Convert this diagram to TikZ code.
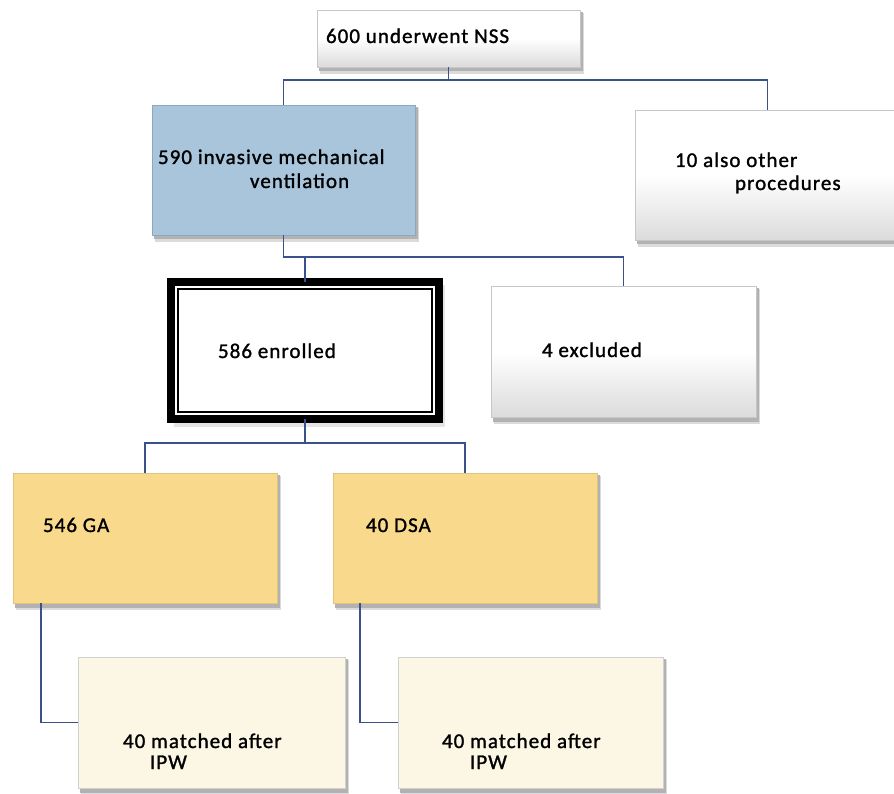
\documentclass[tikz,border=0pt]{standalone}
\usepackage{fontspec}
\setmainfont{Carlito}[LetterSpace=5,FakeBold=1.3]
\usetikzlibrary{backgrounds,calc}
\definecolor{conn}{RGB}{58,82,138}
\definecolor{bluebox}{RGB}{168,197,220}
\definecolor{goldbox}{RGB}{249,218,140}
\definecolor{creambox}{RGB}{251,247,228}
\tikzset{
  box/.style={rectangle, anchor=north west, inner sep=0pt, outer sep=0pt},
  whitebox/.style={box, draw=black!22, line width=0.6pt, top color=white, bottom color=black!14, middle color=white},
  bluefill/.style={box, fill=bluebox, draw=bluebox!85!black, line width=0.4pt},
  goldfill/.style={box, fill=goldbox, draw=goldbox!90!black, line width=0.4pt},
  creamfill/.style={box, fill=creambox, draw=black!18, line width=0.6pt},
  lbl/.style={anchor=base west, inner sep=0pt, outer sep=0pt, font=\fontsize{21}{24}\selectfont},
  link/.style={draw=conn, line width=1.8pt},
  shadowA/.style={fill=black!14},
  shadowB/.style={fill=black!30},
}
\begin{document}
\begin{tikzpicture}[x=1pt,y=-1pt]
\useasboundingbox (0,0) rectangle (894,794);
% boxes
\node[whitebox, minimum width=263pt, minimum height=57pt] (n1) at (317,10) {};
\node[bluefill, minimum width=263pt, minimum height=130pt] (n2) at (152,105) {};
\node[whitebox, minimum width=265pt, minimum height=130pt] (n3) at (635,110) {};
\node[box, draw=black, fill=white, line width=8pt, minimum width=268pt, minimum height=137pt] (n4) at (171,282) {};
\draw[line width=1.6pt] ([shift={(7,7)}]n4.north west) rectangle ([shift={(-7,-7)}]n4.south east);
\node[whitebox, minimum width=265pt, minimum height=131pt] (n5) at (491,286) {};
\node[goldfill, minimum width=264pt, minimum height=130pt] (n6) at (13,473) {};
\node[goldfill, minimum width=264pt, minimum height=130pt] (n7) at (333,473) {};
\node[creamfill, minimum width=267pt, minimum height=131pt] (n8) at (78,657) {};
\node[creamfill, minimum width=265pt, minimum height=131pt] (n9) at (398,657) {};
% shadows and background
\begin{scope}[on background layer]
\fill[white] (0,0) rectangle (894,794);
\foreach \n in {n1,n2,n3,n5,n6,n7,n8,n9}{
  \fill[shadowA] ([shift={(3,3)}]\n.north west) rectangle ([shift={(4,7)}]\n.south east);
  \fill[shadowB] ([shift={(2,2)}]\n.north west) rectangle ([shift={(2.5,4.5)}]\n.south east);
}
\fill[black!10] ([shift={(3,3)}]n4.north west) rectangle ([shift={(6,8)}]n4.south east);
\end{scope}
% connectors
\coordinate (j1) at (448.5,80);
\coordinate (j2) at (283.5,257);
\coordinate (j3) at (305,443);
\draw[link] (n1.south) -- (j1);
\draw[link] (n2.north) |- (j1) -| (n3.north);
\draw[link] (n2.south) -- (j2) -| (n5.north);
\draw[link] (n4.north) |- (j2);
\draw[link] (n4.south) -- (j3);
\draw[link] (n6.north) |- (j3) -| (n7.north);
\draw[link] ([xshift=28pt]n6.south west) |- (n8.west);
\draw[link] ([xshift=27pt]n7.south west) |- (n9.west);
% labels
\node[lbl] (t1) at (326,43) {600 underwent NSS};
\node[lbl] (t2a) at (158,164) {590 invasive mechanical};
\node[lbl] (t2b) at (250,188) {ventilation};
\node[lbl] (t3a) at (675,167) {10 also other};
\node[lbl] (t3b) at (735,190) {procedures};
\node[lbl] (t4) at (218,358) {586 enrolled};
\node[lbl] (t5) at (542,357) {4 excluded};
\node[lbl] (t6) at (43,532) {546 GA};
\node[lbl] (t7) at (366,532) {40 DSA};
\node[lbl] (t8a) at (123,748) {40 matched after};
\node[lbl] (t8b) at (150,769) {IPW};
\node[lbl] (t9a) at (442,748) {40 matched after};
\node[lbl] (t9b) at (470,769) {IPW};
\end{tikzpicture}
\end{document}
